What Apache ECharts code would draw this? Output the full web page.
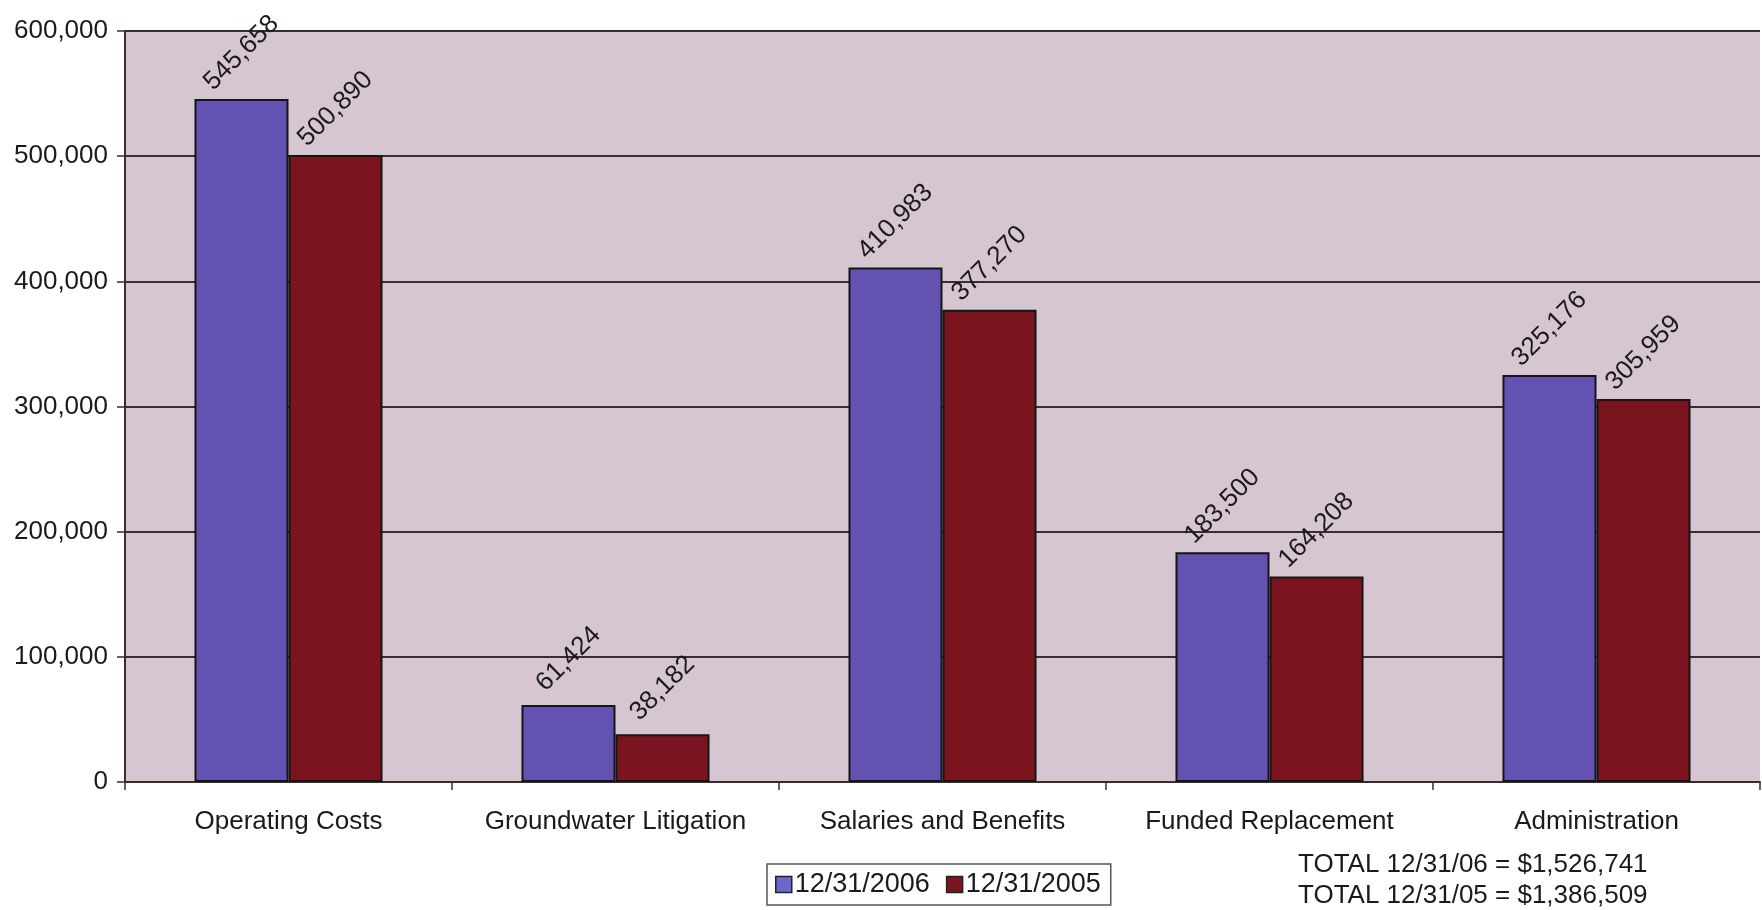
<!DOCTYPE html>
<html>
<head>
<meta charset="utf-8">
<script src="https://cdn.jsdelivr.net/npm/echarts@6/dist/echarts.min.js"></script>
<style>
html,body{margin:0;padding:0;background:#fff;}
#c{width:1762px;height:910px;}
</style>
</head>
<body>
<div id="c"></div>
<script>
const categories = ['Operating Costs', 'Groundwater Litigation', 'Salaries and Benefits', 'Funded Replacement', 'Administration'];
const seriesNames = ['12/31/2006', '12/31/2005'];
const values2006 = [545658, 61424, 410983, 183500, 325176];
const values2005 = [500890, 38182, 377270, 164208, 305959];
const totalLines = ['TOTAL 12/31/06 = $1,526,741', 'TOTAL 12/31/05 = $1,386,509'];

const FONT = 'Liberation Sans, Arial, sans-serif';
const chart = echarts.init(document.getElementById('c'));

function fmt(v) { return v.toLocaleString('en-US'); }

const labelCfg = {
  show: true,
  position: 'top',
  distance: 46,
  rotate: 45,
  align: 'center',
  verticalAlign: 'middle',
  fontFamily: FONT,
  fontSize: 26,
  color: '#1a1a1a',
  formatter: p => fmt(p.value)
};

chart.setOption({
  animation: false,
  backgroundColor: '#ffffff',
  grid: { left: 125, right: 2, top: 31, bottom: 128, show: true, backgroundColor: '#d6c6d1', borderWidth: 0 },
  legend: {
    left: 767, top: 864,
    padding: [7, 10, 7, 8],
    itemWidth: 16, itemHeight: 16, itemGap: 16,
    borderColor: '#555', borderWidth: 1.5,
    backgroundColor: '#fdfdfd',
    textStyle: { fontFamily: FONT, fontSize: 27, color: '#1a1a1a', padding: [0, 0, 0, -2] },
    data: [
      { name: seriesNames[0], icon: 'rect', itemStyle: { color: '#6b68cc', borderColor: '#222', borderWidth: 1.5 } },
      { name: seriesNames[1], icon: 'rect', itemStyle: { color: '#7a1520', borderColor: '#222', borderWidth: 1.5 } }
    ]
  },
  xAxis: {
    type: 'category',
    data: categories,
    axisLine: { lineStyle: { color: '#3a2e2b', width: 2 } },
    axisTick: { show: true, interval: 0, length: 8, lineStyle: { color: '#3a2e2b', width: 1.5 } },
    axisLabel: { interval: 0, fontFamily: FONT, fontSize: 26, color: '#1a1a1a', margin: 27 }
  },
  yAxis: {
    type: 'value',
    min: 0, max: 600000, interval: 100000,
    axisLine: { show: true, lineStyle: { color: '#3a2e2b', width: 2 } },
    axisTick: { show: true, length: 8, lineStyle: { color: '#3a2e2b', width: 1.5 } },
    axisLabel: { fontFamily: FONT, fontSize: 26, color: '#1a1a1a', margin: 17, formatter: v => fmt(v) },
    splitLine: { lineStyle: { color: '#3a2e2b', width: 2 } }
  },
  series: [
    {
      name: seriesNames[0], type: 'bar', data: values2006,
      barGap: '0%', barCategoryGap: '42.5%',
      itemStyle: { color: '#6352b2', borderColor: '#151515', borderWidth: 2 },
      label: labelCfg
    },
    {
      name: seriesNames[1], type: 'bar', data: values2005,
      itemStyle: { color: '#7a1520', borderColor: '#151515', borderWidth: 2 },
      label: labelCfg
    }
  ],
  graphic: totalLines.map((t, i) => ({
    type: 'text', left: 1298, top: 852 + i * 31,
    style: { text: t, font: '26px ' + FONT, fill: '#1a1a1a' }
  }))
});
</script>
</body>
</html>
